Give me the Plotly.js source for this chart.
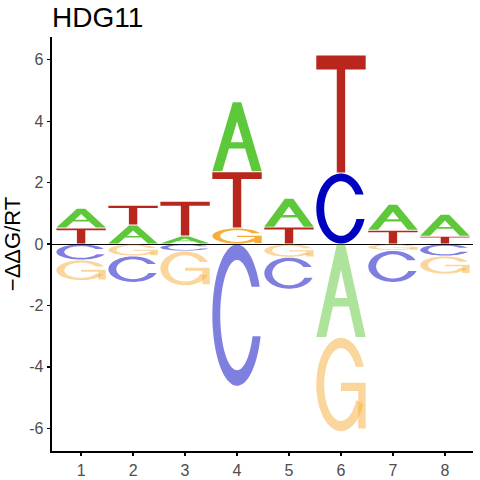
<!DOCTYPE html>
<html>
<head>
<meta charset="utf-8">
<script src="https://cdn.plot.ly/plotly-3.0.1.min.js"></script>
<style>html,body{margin:0;padding:0;background:#fff;}</style>
</head>
<body>
<div id="chart" style="width:480px;height:480px"></div>
<script>
// ---- data ----
const positions = [1, 2, 3, 4, 5, 6, 7, 8];
const xTickLabels = ['1', '2', '3', '4', '5', '6', '7', '8'];
const yTickValues = [-6, -4, -2, 0, 2, 4, 6];
const yTickLabels = ['-6', '-4', '-2', '0', '2', '4', '6'];
const valuesA = [0.64, 0.62, 0.26, 2.28, 0.94, -3.04, 0.84, 0.72];
const valuesC = [-0.52, -0.86, -0.23, -4.63, -1.04, 2.31, -1.04, -0.39];
const valuesG = [-0.67, -0.39, -1.13, 0.52, -0.43, -3.07, -0.21, -0.59];
const valuesT = [0.52, 0.64, 1.13, 1.83, 0.55, 3.84, 0.45, 0.25];
const chartTitle = 'HDG11';
const yTitle = '\u2212\u0394\u0394G/RT';

// ---- style ----
const letterColors = { A: '#5DC83A', C: '#0000C0', G: '#F5AE3A', T: '#B8261E' };
const negOpacity = 0.5;
const letterWidth = 0.95;
const inset = 0.015;
const FONT = 'Liberation Sans, Arial, Helvetica, sans-serif';

// ---- glyph templates (unit box, y up) ----
function ell(rx, ry, t0, t1, n) {
  const pts = [];
  for (let k = 0; k <= n; k++) {
    const t = t0 + (t1 - t0) * k / n;
    pts.push([0.5 + rx * Math.cos(t), 0.5 + ry * Math.sin(t)]);
  }
  return pts;
}
const RO = [0.5, 0.5], RI = [0.34, 0.39];
function glyphParts(letter) {
  if (letter === 'A') {
    const s = 0.415, lo = 0.33, hi = 0.42;
    const outer = [[0, 0], [s, 1], [1 - s, 1], [1, 0], [0.8, 0], [0.8 - s * lo, lo], [0.2 + s * lo, lo], [0.2, 0]];
    const hole = [[0.8 - s * hi, hi], [0.5, 0.3 / s], [0.2 + s * hi, hi]];
    return [[outer, hole]];
  }
  if (letter === 'T') {
    return [[[[0, 1], [1, 1], [1, 0.88], [0.585, 0.88], [0.585, 0], [0.415, 0], [0.415, 0.88], [0, 0.88]]]];
  }
  if (letter === 'C') {
    const tTo = Math.asin(0.20 / RO[1]), tTi = Math.asin(0.20 / RI[1]);
    const tBo = 2 * Math.PI - Math.asin(0.15 / RO[1]), tBi = 2 * Math.PI - Math.asin(0.15 / RI[1]);
    const poly = ell(RO[0], RO[1], tTo, tBo, 64).concat(ell(RI[0], RI[1], tBi, tTi, 64));
    return [[poly]];
  }
  // G
  const tTo = Math.asin(0.19 / RO[1]), tTi = Math.asin(0.19 / RI[1]);
  const tEnd = 335 * Math.PI / 180;
  const arcPoly = ell(RO[0], RO[1], tTo, tEnd, 64).concat(ell(RI[0], RI[1], tEnd, tTi, 64));
  const bar = [[0.5, 0.52], [1.0, 0.52], [1.0, 0.03], [0.85, 0.03], [0.85, 0.43], [0.5, 0.43]];
  return [[arcPoly], [bar]];
}

function pathFor(subpaths, xc, y0, y1) {
  const x0 = xc - letterWidth / 2;
  const h = y1 - y0;
  return subpaths.map(p => 'M' + p.map(([u, v]) =>
    (x0 + u * letterWidth).toFixed(4) + ',' + (y0 + v * h).toFixed(4)).join('L') + 'Z').join('');
}

// ---- build stacked letters ----
const shapes = [];
positions.forEach((pos, i) => {
  const entries = [
    { l: 'A', v: valuesA[i] }, { l: 'C', v: valuesC[i] },
    { l: 'G', v: valuesG[i] }, { l: 'T', v: valuesT[i] }
  ];
  const pos_ = entries.filter(e => e.v > 0).sort((a, b) => a.v - b.v);
  const neg_ = entries.filter(e => e.v < 0).sort((a, b) => b.v - a.v);
  let base = 0;
  pos_.forEach(e => {
    const y0 = base + inset, y1 = base + e.v - inset;
    glyphParts(e.l).forEach(sub => shapes.push({
      type: 'path', xref: 'x', yref: 'y', layer: 'above',
      path: pathFor(sub, pos, y0, y1), fillcolor: letterColors[e.l],
      fillrule: 'evenodd', line: { width: 0 }, opacity: 1
    }));
    base += e.v;
  });
  base = 0;
  neg_.forEach(e => {
    const y1 = base - inset, y0 = base + e.v + inset;
    glyphParts(e.l).forEach(sub => shapes.push({
      type: 'path', xref: 'x', yref: 'y', layer: 'above',
      path: pathFor(sub, pos, y0, y1), fillcolor: letterColors[e.l],
      fillrule: 'evenodd', line: { width: 0 }, opacity: negOpacity
    }));
    base += e.v;
  });
});

const data = [{ type: 'scatter', x: [], y: [], hoverinfo: 'skip', showlegend: false }];

const layout = {
  width: 480, height: 480,
  margin: { l: 52, r: 7, t: 37, b: 29 },
  paper_bgcolor: '#fff', plot_bgcolor: '#fff',
  showlegend: false,
  font: { family: FONT },
  title: {
    text: chartTitle, font: { size: 28, color: '#000', family: FONT },
    xref: 'paper', x: 0, xanchor: 'left', yref: 'container', y: 0.965, yanchor: 'middle',
    pad: { l: 0, t: 0, b: 0, r: 0 }
  },
  xaxis: {
    range: [0.44, 8.54], tickmode: 'array', tickvals: positions, ticktext: xTickLabels,
    ticks: 'outside', ticklen: 3.5, tickwidth: 1.3, tickcolor: '#000',
    showline: true, linecolor: '#000', linewidth: 1.8,
    showgrid: false, zeroline: false,
    tickfont: { size: 16, color: '#4D4D4D', family: FONT }
  },
  yaxis: {
    range: [-6.74, 6.74], tickmode: 'array', tickvals: yTickValues, ticktext: yTickLabels,
    ticks: 'outside', ticklen: 3.5, tickwidth: 1.3, tickcolor: '#000',
    showline: true, linecolor: '#000', linewidth: 1.8,
    showgrid: false, zeroline: true, zerolinecolor: '#000', zerolinewidth: 1,
    tickfont: { size: 16, color: '#4D4D4D', family: FONT },
    title: { text: yTitle, font: { size: 22, color: '#000', family: FONT }, standoff: 3 }
  },
  shapes: shapes
};

Plotly.newPlot('chart', data, layout, { staticPlot: true, displayModeBar: false });
</script>
</body>
</html>
